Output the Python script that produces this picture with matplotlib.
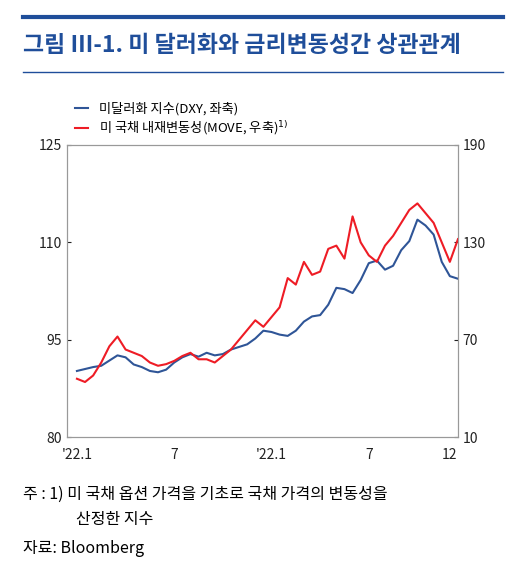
import matplotlib.pyplot as plt
import numpy as np

plt.rcParams['font.family'] = ['Noto Sans CJK KR', 'DejaVu Sans']

# semi-monthly points, Jan 2021 .. Dec 2022
dxy = [90.2, 90.5, 90.8, 91.0, 91.8, 92.6, 92.3, 91.2, 90.8, 90.2, 90.0, 90.4,
       91.5, 92.3, 92.8, 92.4, 93.0, 92.6, 92.8, 93.5, 93.9, 94.3, 95.2, 96.4,
       96.2, 95.8, 95.6, 96.4, 97.8, 98.6, 98.8, 100.4, 103.0, 102.8, 102.2, 104.2,
       106.8, 107.2, 105.8, 106.4, 108.8, 110.2, 113.5, 112.6, 111.2, 107.0, 104.8, 104.4]
move = [46, 44, 48, 56, 66, 72, 64, 62, 60, 56, 54, 55,
        57, 60, 62, 58, 58, 56, 60, 64, 70, 76, 82, 78,
        84, 90, 108, 104, 118, 110, 112, 126, 128, 120, 146, 130,
        122, 118, 128, 134, 142, 150, 154, 148, 142, 130, 118, 132]
xs = np.arange(len(dxy)) / 2.0

xtick_pos = [0, 6, 12, 18, 23]
xtick_lab = ["'22.1", "7", "'22.1", "7", "12"]

fig = plt.figure(figsize=(5.21, 5.73), dpi=100)
navy = '#1f4e9a'
fig.add_artist(plt.Line2D([0.044, 0.965], [0.97, 0.97], color=navy, lw=3))
fig.add_artist(plt.Line2D([0.044, 0.965], [0.875, 0.875], color=navy, lw=1))
fig.text(0.044, 0.92, "그림 Ⅲ-1. 미 달러화와 금리변동성간 상관관계", color=navy,
         fontsize=16.5, fontweight='bold', va='center')

ax = fig.add_axes([0.129, 0.237, 0.75, 0.51])
ax2 = ax.twinx()
l1, = ax.plot(xs, dxy, color='#2f5597', lw=1.5)
l2, = ax2.plot(xs, move, color='#ee1c25', lw=1.5)
ax.set_xlim(-0.6, 23.5)
ax.set_ylim(80, 125)
ax2.set_ylim(10, 190)
ax.set_yticks([80, 95, 110, 125])
ax2.set_yticks([10, 70, 130, 190])
ax.set_xticks(xtick_pos)
ax.set_xticklabels(xtick_lab)
for a in (ax, ax2):
    a.tick_params(labelsize=10, direction='in', length=3, colors='#222222')
    for s in a.spines.values():
        s.set_color('#999999')
ax.tick_params(axis='x', length=0, pad=8)
ax.legend([l1, l2], ["미달러화 지수(DXY, 좌축)", "미 국채 내재변동성(MOVE, 우축)$^{1)}$"],
          loc='lower left', bbox_to_anchor=(0.0, 1.0), frameon=False, fontsize=9.5,
          handlelength=1.0, borderaxespad=0.2, labelspacing=0.3)

fig.text(0.044, 0.13, "주 : 1) 미 국채 옵션 가격을 기초로 국채 가격의 변동성을", fontsize=11.5)
fig.text(0.145, 0.085, "산정한 지수", fontsize=11.5)
fig.text(0.044, 0.035, "자료: Bloomberg", fontsize=11.5)
fig.savefig('out.png')
